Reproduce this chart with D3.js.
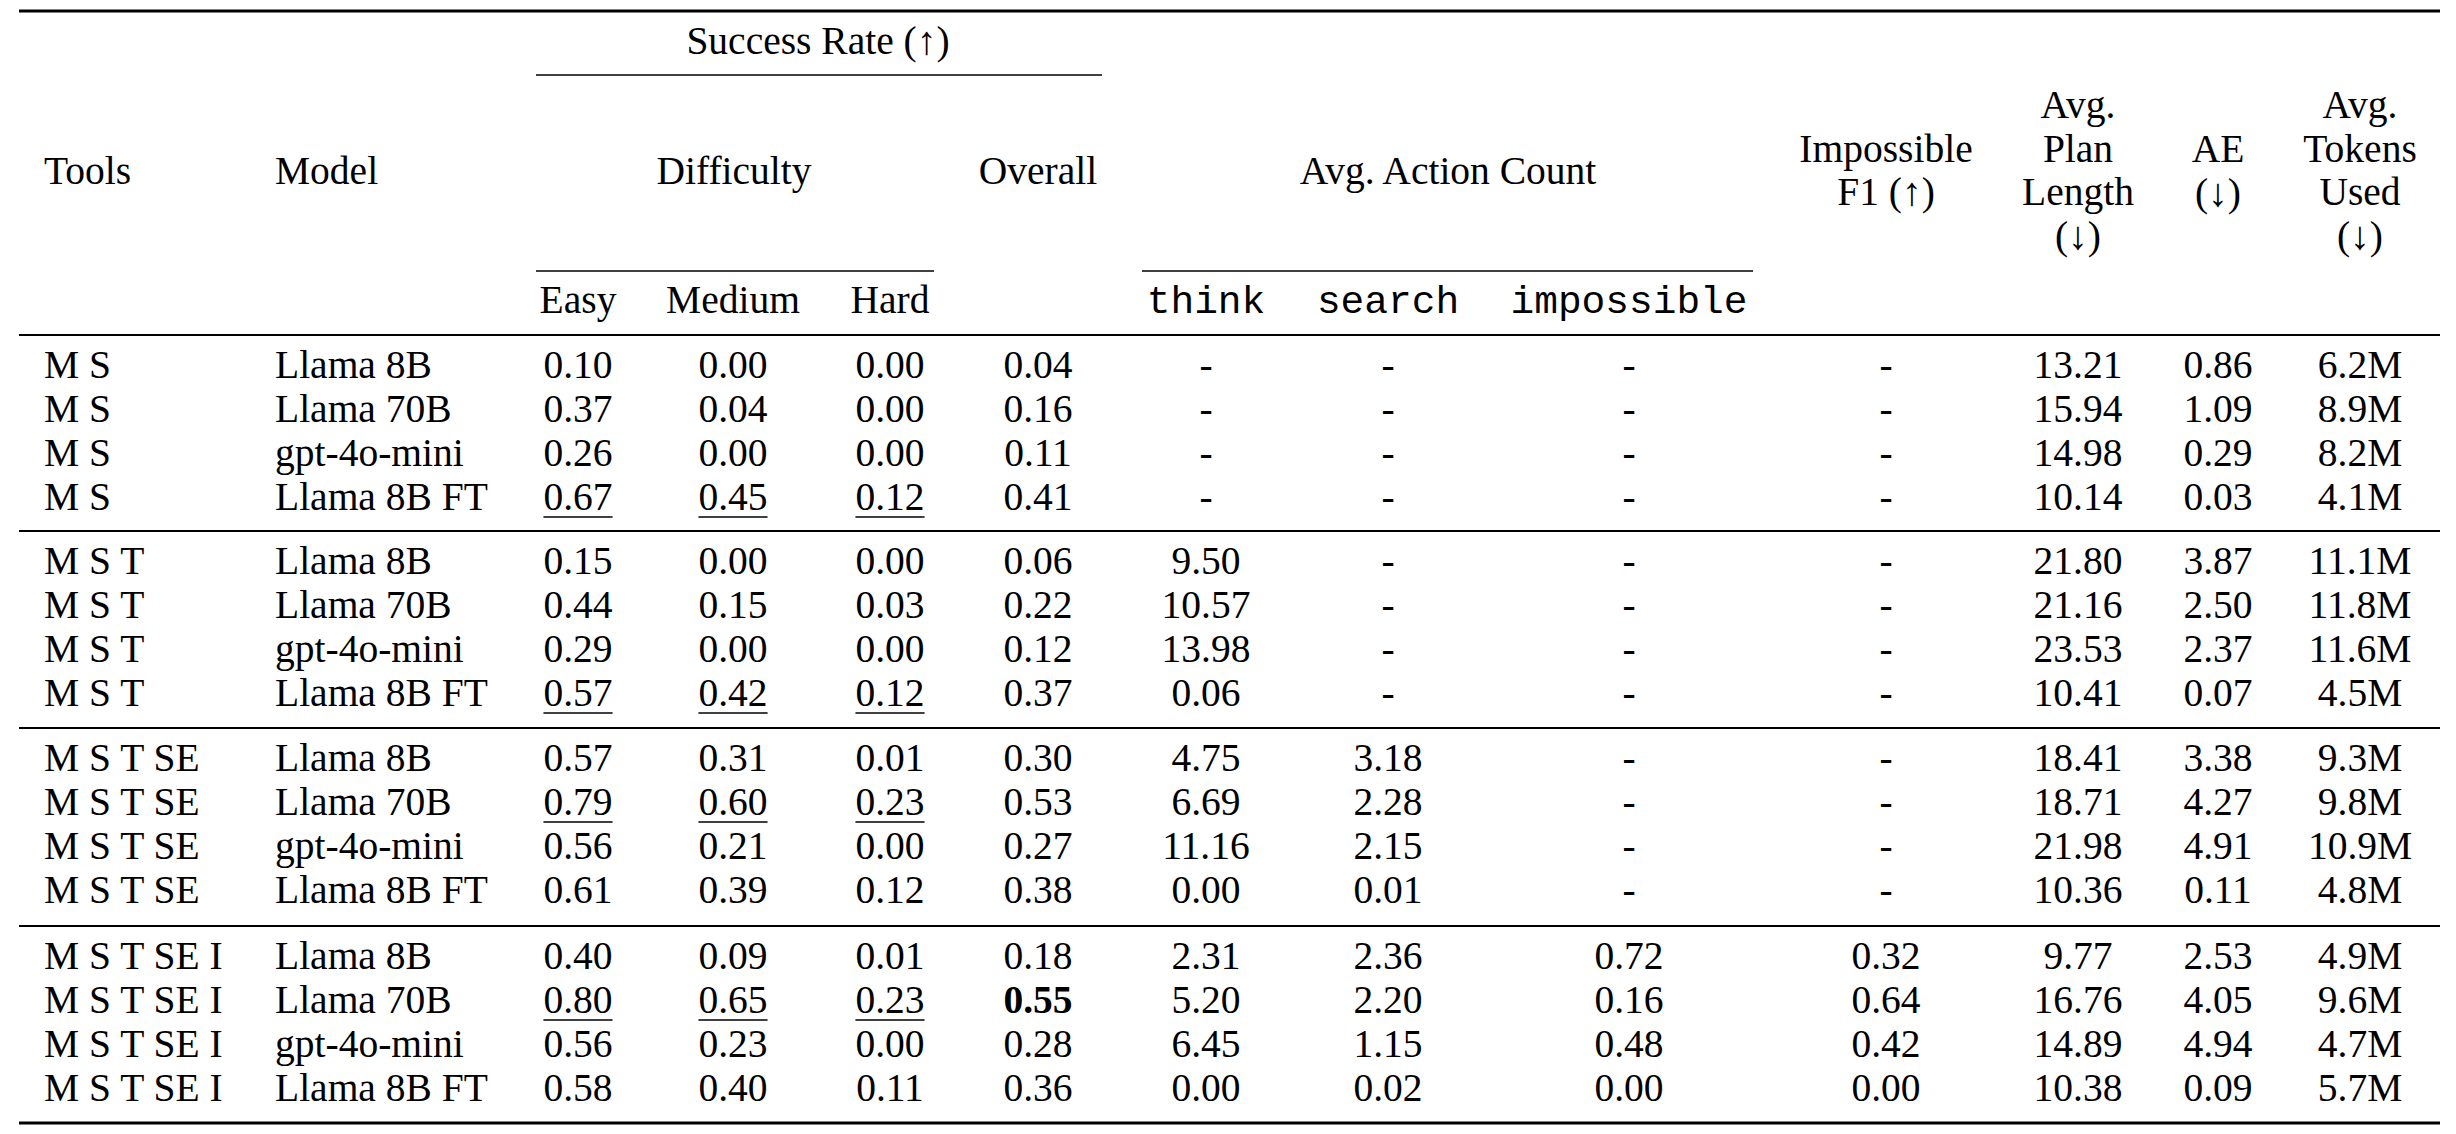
<!DOCTYPE html>
<html>
<head>
<meta charset="utf-8">
<script src="https://cdn.jsdelivr.net/npm/d3@7"></script>
<style>
  html, body { margin: 0; padding: 0; background: #fff; }
  svg { display: block; }
  text { font-family: "Liberation Serif", "Times New Roman", serif; font-size: 39.5px; fill: #000; }
  .mono { font-family: "Liberation Mono", "Courier New", monospace; font-size: 39.5px; }
</style>
</head>
<body>
<svg id="chart" width="2456" height="1134"></svg>
<script>
// ---------------- data ----------------
const toolGroups = ["M S", "M S T", "M S T SE", "M S T SE I"];
const models = ["Llama 8B", "Llama 70B", "gpt-4o-mini", "Llama 8B FT"];

const easy    = [0.10, 0.37, 0.26, 0.67,  0.15, 0.44, 0.29, 0.57,  0.57, 0.79, 0.56, 0.61,  0.40, 0.80, 0.56, 0.58];
const medium  = [0.00, 0.04, 0.00, 0.45,  0.00, 0.15, 0.00, 0.42,  0.31, 0.60, 0.21, 0.39,  0.09, 0.65, 0.23, 0.40];
const hard    = [0.00, 0.00, 0.00, 0.12,  0.00, 0.03, 0.00, 0.12,  0.01, 0.23, 0.00, 0.12,  0.01, 0.23, 0.00, 0.11];
const overall = [0.04, 0.16, 0.11, 0.41,  0.06, 0.22, 0.12, 0.37,  0.30, 0.53, 0.27, 0.38,  0.18, 0.55, 0.28, 0.36];
const think      = [null, null, null, null,  9.50, 10.57, 13.98, 0.06,  4.75, 6.69, 11.16, 0.00,  2.31, 5.20, 6.45, 0.00];
const search     = [null, null, null, null,  null, null, null, null,  3.18, 2.28, 2.15, 0.01,  2.36, 2.20, 1.15, 0.02];
const impossible = [null, null, null, null,  null, null, null, null,  null, null, null, null,  0.72, 0.16, 0.48, 0.00];
const impossibleF1 = [null, null, null, null,  null, null, null, null,  null, null, null, null,  0.32, 0.64, 0.42, 0.00];
const planLength = [13.21, 15.94, 14.98, 10.14,  21.80, 21.16, 23.53, 10.41,  18.41, 18.71, 21.98, 10.36,  9.77, 16.76, 14.89, 10.38];
const ae         = [0.86, 1.09, 0.29, 0.03,  3.87, 2.50, 2.37, 0.07,  3.38, 4.27, 4.91, 0.11,  2.53, 4.05, 4.94, 0.09];
const tokensM    = [6.2, 8.9, 8.2, 4.1,  11.1, 11.8, 11.6, 4.5,  9.3, 9.8, 10.9, 4.8,  4.9, 9.6, 4.7, 5.7];

// best difficulty rows per group (underlined) and best overall (bold)
const underlinedModelInGroup = [3, 3, 1, 1];
const boldOverallRow = 13;

// ---------------- layout ----------------
const svg = d3.select("#chart");
svg.append("rect").attr("width", 2456).attr("height", 1134).attr("fill", "#fff");

const colKeys = ["tools", "model", "easy", "medium", "hard", "overall", "think", "search", "impossible", "impF1", "plan", "ae", "tokens"];
const x = d3.scaleOrdinal()
  .domain(colKeys)
  .range([44, 275, 578, 733, 890, 1038, 1206, 1388, 1629, 1886, 2078, 2218, 2360]);

const groupRule = d3.scaleOrdinal().domain([0, 1, 2, 3]).range([335, 531, 728, 926]);
const rowInGroup = d3.scaleLinear().domain([0, 3]).range([43, 43 + 3 * 44]);
const rowY = i => groupRule(Math.floor(i / 4)) + rowInGroup(i % 4);

const tableLeft = 19, tableRight = 2440;

function hrule(y, w, x1 = tableLeft, x2 = tableRight) {
  svg.append("line").attr("x1", x1).attr("x2", x2).attr("y1", y).attr("y2", y)
    .attr("stroke", "#000").attr("stroke-width", w);
}

// rules
hrule(11, 3);
hrule(335, 2);
hrule(531, 2);
hrule(728, 2);
hrule(926, 2);
hrule(1123, 3.2);
// cmidrules
hrule(75, 1.4, 536, 1102);
hrule(271, 1.4, 536, 934);
hrule(271, 1.4, 1142, 1753);

// ---------------- header ----------------
function label(txt, xx, yy, anchor = "middle", cls = null) {
  const t = svg.append("text").attr("x", xx).attr("y", yy).attr("text-anchor", anchor).text(txt);
  if (cls) t.attr("class", cls);
  return t;
}
label("Success Rate (\u2191)", 818, 54);
label("Tools", x("tools"), 184, "start");
label("Model", x("model"), 184, "start");
label("Difficulty", 734, 184);
label("Overall", x("overall"), 184);
label("Avg. Action Count", 1448, 184);
label("Easy", x("easy"), 313);
label("Medium", x("medium"), 313);
label("Hard", x("hard"), 313);
label("think", x("think"), 313, "middle", "mono");
label("search", x("search"), 313, "middle", "mono");
label("impossible", x("impossible"), 313, "middle", "mono");
label("Impossible", x("impF1"), 162);
label("F1 (\u2191)", x("impF1"), 205);
["Avg.", "Plan", "Length", "(\u2193)"].forEach((s, i) => label(s, x("plan"), 118 + i * 43.5));
["AE", "(\u2193)"].forEach((s, i) => label(s, x("ae"), 162 + i * 43.5));
["Avg.", "Tokens", "Used", "(\u2193)"].forEach((s, i) => label(s, x("tokens"), 118 + i * 43.5));

// ---------------- body ----------------
const fmt2 = d3.format(".2f");
const fmtVal = v => v === null ? "-" : fmt2(v);
const nRows = easy.length;
const rows = d3.range(nRows).map(i => ({
  i,
  tools: toolGroups[Math.floor(i / 4)],
  model: models[i % 4],
  easy: fmtVal(easy[i]),
  medium: fmtVal(medium[i]),
  hard: fmtVal(hard[i]),
  overall: fmtVal(overall[i]),
  think: fmtVal(think[i]),
  search: fmtVal(search[i]),
  impossible: fmtVal(impossible[i]),
  impF1: fmtVal(impossibleF1[i]),
  plan: fmtVal(planLength[i]),
  ae: fmtVal(ae[i]),
  tokens: d3.format(".1f")(tokensM[i]) + "M"
}));

const body = svg.append("g");
rows.forEach(r => {
  const y = rowY(r.i);
  colKeys.forEach(k => {
    const anchor = (k === "tools" || k === "model") ? "start" : "middle";
    const t = body.append("text").attr("x", x(k)).attr("y", y).attr("text-anchor", anchor).text(r[k]);
    if (k === "overall" && r.i === boldOverallRow) t.attr("font-weight", "bold");
    if ((k === "easy" || k === "medium" || k === "hard") &&
        (r.i % 4) === underlinedModelInGroup[Math.floor(r.i / 4)]) {
      const w = t.node().getComputedTextLength();
      body.append("line")
        .attr("x1", x(k) - w / 2).attr("x2", x(k) + w / 2)
        .attr("y1", y + 7).attr("y2", y + 7)
        .attr("stroke", "#000").attr("stroke-width", 1.6);
    }
  });
});
</script>
</body>
</html>
